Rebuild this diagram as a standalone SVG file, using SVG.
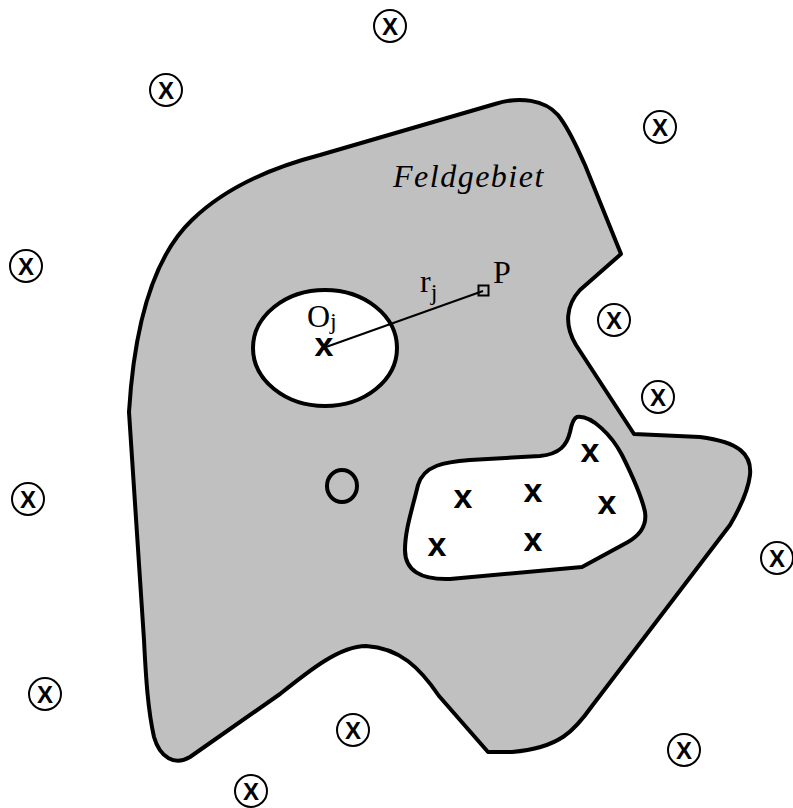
<svg xmlns="http://www.w3.org/2000/svg" width="793" height="808" viewBox="0 0 793 808">
<style>
.region{fill:#c0c0c0;stroke:#000;stroke-width:4;stroke-linejoin:round}
.hole{fill:#fff;stroke:#000;stroke-width:4;stroke-linejoin:round}
.src circle{fill:#fff;stroke:#000;stroke-width:2}
.src text{font-family:"Liberation Sans",Arial,sans-serif;font-weight:bold;font-size:24px;text-anchor:middle}
.cx{font-family:"Liberation Sans",Arial,sans-serif;font-weight:bold;font-size:34px;text-anchor:middle}
.lbl{font-family:"Liberation Serif","Times New Roman",serif;font-size:32px}
</style>
<g id="feldgebiet">
<path class="region" d="M 129,412 C 134,330 152,258 192,220 C 225,188 270,168 320,155 L 495,104 C 520,96 545,100 558,115 C 570,130 578,150 585,165 L 621,254 L 580,290 C 566,305 564,325 576,345 L 634,434 L 700,437 C 740,442 752,455 750,475 C 748,492 740,508 730,525 L 592,706 C 575,730 560,748 512,752 L 488,752 L 439,696 C 420,668 400,648 366,646 C 340,646 310,670 280,694 L 190,757 C 175,766 160,758 154,737 C 148,710 146,680 144,640 Z"/>
<text class="lbl" x="393" y="187" font-style="italic" letter-spacing="1.5">Feldgebiet</text>
</g>
<g id="hole1">
<ellipse class="hole" cx="325" cy="348" rx="72" ry="58"/>
<text class="cx" x="324" y="356">x</text>
<text class="lbl" x="307" y="327">O<tspan font-size="24" dy="2">j</tspan></text>
</g>
<g id="hole2">
<path class="hole" d="M 577,417 C 592,415 612,436 622,455 C 632,475 642,498 645,512 C 647,525 640,535 628,542 L 582,567 L 450,579 C 420,580 405,570 405,550 C 405,530 412,510 418,485 C 424,465 445,462 470,460 L 540,456 C 560,454 567,445 570,432 C 572,422 574,418 577,417 Z"/>
<text class="cx" x="590" y="462">x</text>
<text class="cx" x="463" y="508">x</text>
<text class="cx" x="533" y="502">x</text>
<text class="cx" x="607" y="514">x</text>
<text class="cx" x="437" y="556">x</text>
<text class="cx" x="533" y="551">x</text>
</g>
<g id="small-circle">
<ellipse cx="342" cy="486" rx="15" ry="16" fill="none" stroke="#000" stroke-width="4"/>
</g>
<g id="point-P">
<rect x="478.5" y="285.5" width="10" height="10" fill="none" stroke="#000" stroke-width="2"/>
<text class="lbl" x="493" y="283">P</text>
</g>
<g id="connectors">
<line x1="326" y1="347" x2="483" y2="291" stroke="#000" stroke-width="2"/>
<text class="lbl" x="420" y="292">r<tspan font-size="24" dy="8">j</tspan></text>
</g>
<g id="sources" class="src">
<g id="s1"><circle cx="390" cy="26" r="16"/><text x="390" y="34.5">X</text></g>
<g id="s2"><circle cx="166" cy="90" r="16"/><text x="166" y="98.5">X</text></g>
<g id="s3"><circle cx="660" cy="127" r="16"/><text x="660" y="135.5">X</text></g>
<g id="s4"><circle cx="26" cy="266" r="16"/><text x="26" y="274.5">X</text></g>
<g id="s5"><circle cx="614" cy="320" r="16"/><text x="614" y="328.5">X</text></g>
<g id="s6"><circle cx="658" cy="397" r="16"/><text x="658" y="405.5">X</text></g>
<g id="s7"><circle cx="28" cy="499" r="16"/><text x="28" y="507.5">X</text></g>
<g id="s8"><circle cx="777" cy="558" r="16"/><text x="777" y="566.5">X</text></g>
<g id="s9"><circle cx="45" cy="694" r="16"/><text x="45" y="702.5">X</text></g>
<g id="s10"><circle cx="353" cy="730" r="16"/><text x="353" y="738.5">X</text></g>
<g id="s11"><circle cx="684" cy="750" r="16"/><text x="684" y="758.5">X</text></g>
<g id="s12"><circle cx="251" cy="791" r="16"/><text x="251" y="799.5">X</text></g>
</g>
</svg>
